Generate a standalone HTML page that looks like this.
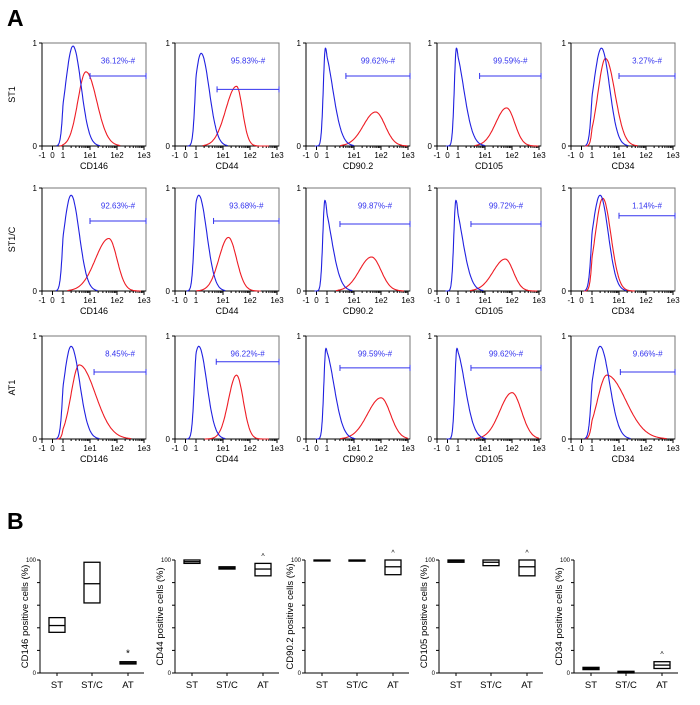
<!DOCTYPE html>
<html><head><meta charset="utf-8">
<style>
body{margin:0;background:#fff;}
svg{display:block;font-family:"Liberation Sans",Arial,sans-serif;}
</style></head>
<body>
<svg id="fig" width="700" height="705" viewBox="0 0 700 705" xmlns="http://www.w3.org/2000/svg">
<text x="7" y="26" font-size="23" font-weight="bold">A</text>
<text x="7" y="529" font-size="23" font-weight="bold">B</text>
</svg>
<script>
// ---------- Panel A data ----------
const markers = ["CD146","CD44","CD90.2","CD105","CD34"];
const rowNames = ["ST1","ST1/C","AT1"];
const gateLabels = [
 ["36.12%-#","95.83%-#","99.62%-#","99.59%-#","3.27%-#"],
 ["92.63%-#","93.68%-#","99.87%-#","99.72%-#","1.14%-#"],
 ["8.45%-#","96.22%-#","99.59%-#","99.62%-#","9.66%-#"]];
// peak positions in axis units (-1..1 linear, then 1+log10)
const blueCenter = [[1.37,1.19,0.85,0.85,1.35],[1.3,1.1,0.8,0.8,1.3],[1.3,1.1,0.9,0.9,1.3]];
const blueHeight = [[0.97,0.9,0.95,0.95,0.95],[0.93,0.93,0.88,0.88,0.93],[0.9,0.9,0.88,0.88,0.9]];
const blueSigL = [[0.28,0.25,0.2,0.2,0.3],[0.28,0.25,0.2,0.2,0.3],[0.28,0.25,0.2,0.2,0.3]];
const blueSigR = [[0.3,0.3,0.35,0.35,0.3],[0.3,0.3,0.35,0.35,0.3],[0.32,0.3,0.35,0.35,0.35]];
const redCenter = [[1.85,2.5,2.8,2.8,1.5],[2.7,2.2,2.65,2.75,1.4],[1.6,2.5,3.0,3.0,1.55]];
const redHeight = [[0.72,0.58,0.33,0.37,0.85],[0.51,0.52,0.33,0.31,0.9],[0.72,0.62,0.4,0.45,0.62]];
const redSigL = [[0.3,0.4,0.45,0.4,0.28],[0.5,0.35,0.45,0.45,0.28],[0.3,0.3,0.5,0.45,0.35]];
const redSigR = [[0.4,0.22,0.35,0.3,0.35],[0.3,0.3,0.35,0.3,0.3],[0.6,0.25,0.35,0.35,0.7]];
const gateStart = [[2.0,1.78,1.7,1.8,2.0],[2.0,1.65,1.48,1.48,2.0],[2.15,1.75,1.48,1.48,2.05]];
const gateLevel = [[0.68,0.55,0.68,0.68,0.68],[0.68,0.68,0.65,0.65,0.73],[0.65,0.75,0.69,0.69,0.65]];
const xTickLabels = ["-1","0","1","1e1","1e2","1e3"];
const xTickVals = [-1,0,1,2,3,4];

// ---------- Panel B data ----------
const groups = ["ST","ST/C","AT"];
const boxLow = [[36,62,8],[97,92,86],[99.5,99,87],[98,95,86],[3,0,4]];
const boxMed = [[42,79,9],[98.5,93,92],[99.8,99.6,94],[99,98,94],[4,0.8,7]];
const boxHigh = [[49,98,10],[100,94,97],[100,100,100],[100,100,100],[5,1.5,10]];
const boxMark = [["","","*"],["","","^"],["","","^"],["","","^"],["","","^"]];
const yTickVals = [0,20,40,60,80,100];

const svg = document.getElementById('fig');
const NS = "http://www.w3.org/2000/svg";
function mk(tag, attrs, parent){const e=document.createElementNS(NS,tag);for(const k in attrs)e.setAttribute(k,attrs[k]);(parent||svg).appendChild(e);return e;}

const colX = [42,175,306,437,571];
const rowY = [43,188,336];
const W = 104, H = 103;
function xs(t){return t<=1 ? 10.5*(t+1)*W/104 : (21+27*(t-1))*W/104;}
function g(t,c,h,sl,sr){const s=t<c?sl:sr;return h*Math.exp(-0.5*((t-c)/s)**2);}

for(let r=0;r<3;r++){
 const rl=mk('text',{x:0,y:0,'font-size':9,'text-anchor':'middle',transform:`translate(15,${rowY[r]+H/2}) rotate(-90)`});
 rl.textContent=rowNames[r];
 
 
 for(let c=0;c<5;c++){
  const x0=colX[c], y0=rowY[r];
  const grp=mk('g',{transform:`translate(${x0},${y0})`});
  
  
  const fr=mk('rect',{x:0,y:0,width:W,height:H,fill:'none',stroke:'#777','stroke-width':1},grp);
  
  
  mk('line',{x1:0,y1:0,x2:0,y2:H,stroke:'#000'},grp);
  mk('line',{x1:0,y1:H,x2:W,y2:H,stroke:'#000'},grp);
  const ys=v=>H-v*H;
  [[1,'1'],[0,'0']].forEach(([v,l])=>{
   mk('line',{x1:-3,y1:ys(v),x2:0,y2:ys(v),stroke:'#000'},grp);
   const t=mk('text',{x:-5,y:ys(v)+3,'font-size':8,'text-anchor':'end'},grp);t.textContent=l;
   
   
  });
  xTickVals.forEach((v,i)=>{
   mk('line',{x1:xs(v),y1:H,x2:xs(v),y2:H+4,stroke:'#000'},grp);
   const t=mk('text',{x:xs(v),y:H+12,'font-size':8,'text-anchor':'middle'},grp);t.textContent=xTickLabels[i];
   
   
   if(v>=1&&v<4){for(let m=2;m<10;m++){const xm=xs(v+Math.log10(m));mk('line',{x1:xm,y1:H,x2:xm,y2:H+2,stroke:'#000'},grp);}}
  });
  const xl=mk('text',{x:W/2,y:H+23,'font-size':9,'text-anchor':'middle'},grp);xl.textContent=markers[c];
  
  
  let pb='',pr='';
  for(let i=0;i<=200;i++){const t=-0.3+i*(4.3/200);
   const vb=g(t,blueCenter[r][c],blueHeight[r][c],blueSigL[r][c],blueSigR[r][c]);
   const vr=g(t,redCenter[r][c],redHeight[r][c],redSigL[r][c],redSigR[r][c]);
   if(vb>0.004||(t>blueCenter[r][c]-1&&t<blueCenter[r][c]+1)) pb+=(pb?'L':'M')+xs(t).toFixed(1)+','+ys(vb).toFixed(1);
   if(vr>0.004||(t>redCenter[r][c]-1.2&&t<redCenter[r][c]+1.2)) pr+=(pr?'L':'M')+xs(t).toFixed(1)+','+ys(vr).toFixed(1);
  }
  const cr=mk('path',{d:pr,fill:'none',stroke:'#ee1c24','stroke-width':1.1},grp);
  
  
  const cb=mk('path',{d:pb,fill:'none',stroke:'#2020e0','stroke-width':1.1},grp);
  
  
  const gx=xs(gateStart[r][c]), gy=ys(gateLevel[r][c]);
  const gl=mk('line',{x1:gx,y1:gy,x2:W,y2:gy,stroke:'#3333ee','stroke-width':1},grp);
  
  
  mk('line',{x1:gx,y1:gy-3,x2:gx,y2:gy+3,stroke:'#3333ee'},grp);
  mk('line',{x1:W,y1:gy-3,x2:W,y2:gy+3,stroke:'#3333ee'},grp);
  const gt=mk('text',{x:(gx+W)/2,y:ys(0.83)+3,'font-size':8,'text-anchor':'middle',fill:'#3333ee'},grp);
  gt.textContent=gateLabels[r][c];
  
  
 }
}

// ---------- Panel B ----------
const bX=[40,175,305,439,574];
const bTop=560, bBot=673, bW=104;
const catOff=[17,52,88];
for(let c=0;c<5;c++){
 const grp=mk('g',{transform:`translate(${bX[c]},0)`});
 
 
 const yv=v=>bBot-v*(bBot-bTop)/100;
 mk('line',{x1:0,y1:bTop,x2:0,y2:bBot,stroke:'#000'},grp);
 mk('line',{x1:0,y1:bBot,x2:bW,y2:bBot,stroke:'#000'},grp);
 yTickVals.forEach(v=>{mk('line',{x1:-3,y1:yv(v),x2:0,y2:yv(v),stroke:'#000'},grp);
  if(v===0||v===100){const t=mk('text',{x:-4,y:yv(v)+2,'font-size':6,'text-anchor':'end'},grp);t.textContent=String(v);
   
   }
 });
 const yl=mk('text',{x:0,y:0,'font-size':9.5,'text-anchor':'middle',transform:`translate(-12,${(bTop+bBot)/2}) rotate(-90)`},grp);
 yl.textContent=markers[c]+' positive cells (%)';
 
 
 groups.forEach((gname,i)=>{
  const cx=catOff[i];
  mk('line',{x1:cx,y1:bBot,x2:cx,y2:bBot+3,stroke:'#000'},grp);
  const t=mk('text',{x:cx,y:bBot+15,'font-size':9.5,'text-anchor':'middle'},grp);t.textContent=gname;
  
  
  const top=yv(boxHigh[c][i]), bot=yv(boxLow[c][i]), med=yv(boxMed[c][i]);
  const b=mk('rect',{x:cx-8,y:top,width:16,height:Math.max(bot-top,1),fill:'none',stroke:'#000','stroke-width':1.3},grp);
  
  
  mk('line',{x1:cx-8,y1:med,x2:cx+8,y2:med,stroke:'#000','stroke-width':1.3},grp);
  if(boxMark[c][i]){const m=mk('text',{x:cx,y:top-5,'font-size':boxMark[c][i]==='*'?10:7,'text-anchor':'middle'},grp);m.textContent=boxMark[c][i];
   
   }
 });
}
</script>
</body></html>
